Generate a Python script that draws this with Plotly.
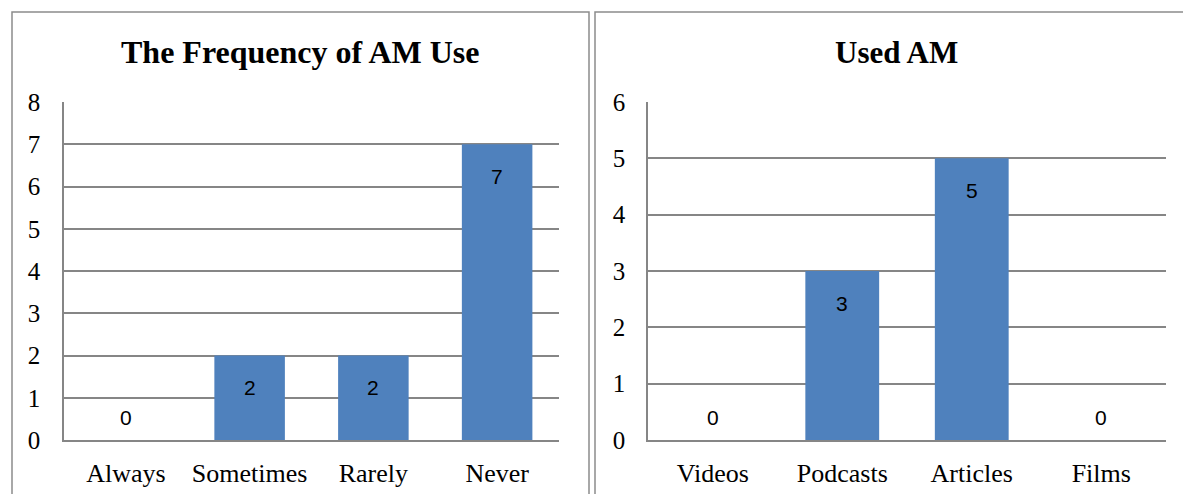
import plotly.graph_objects as go

# Chart data
freq_categories = ["Always", "Sometimes", "Rarely", "Never"]
freq_values = [0, 2, 2, 7]
freq_title = "The Frequency of AM Use"

used_categories = ["Videos", "Podcasts", "Articles", "Films"]
used_values = [0, 3, 5, 0]
used_title = "Used AM"

W, H = 1183, 494
BAR = "#4F81BD"
GRID = "#868686"
SERIF = "Liberation Serif, Times New Roman, serif"
SANS = "Liberation Sans, Arial, sans-serif"


def px_x(x):
    return x / W


def px_y(y):
    return 1 - y / H


fig = go.Figure()

fig.add_trace(go.Bar(x=freq_categories, y=freq_values, marker_color=BAR,
                     marker_line_width=0, xaxis="x", yaxis="y",
                     hoverinfo="x+y"))
fig.add_trace(go.Bar(x=used_categories, y=used_values, marker_color=BAR,
                     marker_line_width=0, xaxis="x2", yaxis="y2",
                     hoverinfo="x+y"))

line_common = dict(showline=True, linecolor=GRID, linewidth=1.5,
                   automargin=False, fixedrange=True, ticks="")
xfont = dict(family=SERIF, size=26, color="#000")
yfont = dict(family=SERIF, size=25, color="#000")

fig.update_layout(
    template="none",
    width=W, height=H,
    margin=dict(l=0, r=0, t=0, b=0, pad=0),
    paper_bgcolor="white", plot_bgcolor="white",
    showlegend=False,
    bargap=0.43,
    xaxis=dict(domain=[px_x(64), px_x(559)], anchor="y", showgrid=False,
               tickfont=xfont, ticklabelstandoff=9, **line_common),
    yaxis=dict(domain=[px_y(440), px_y(102)], anchor="x", range=[0, 8],
               dtick=1, showgrid=True, gridcolor=GRID, gridwidth=1.5,
               zeroline=False, tickfont=yfont, ticklabelstandoff=17,
               **line_common),
    xaxis2=dict(domain=[px_x(648), px_x(1166)], anchor="y2", showgrid=False,
                tickfont=xfont, ticklabelstandoff=9, **line_common),
    yaxis2=dict(domain=[px_y(440), px_y(102)], anchor="x2", range=[0, 6],
                dtick=1, showgrid=True, gridcolor=GRID, gridwidth=1.5,
                zeroline=False, tickfont=yfont, ticklabelstandoff=16,
                **line_common),
)

# Value labels: inside the top of each bar, just above the axis for zeros
annotations = []
for cats, vals, xr, yr in [(freq_categories, freq_values, "x", "y"),
                           (used_categories, used_values, "x2", "y2")]:
    for c, v in zip(cats, vals):
        annotations.append(dict(
            x=c, y=v, xref=xr, yref=yr, text=str(v), showarrow=False,
            xanchor="center", yanchor="middle",
            font=dict(family=SANS, size=21, color="#000"),
            yshift=23 if v == 0 else -32,
        ))

# Panel titles
for title, cx, size in [(freq_title, 300, 32), (used_title, 896, 31)]:
    annotations.append(dict(x=px_x(cx), y=px_y(52), xref="paper",
                            yref="paper", text="<b>" + title + "</b>",
                            showarrow=False, xanchor="center",
                            yanchor="middle",
                            font=dict(family=SERIF, size=size, color="#000")))
fig.update_layout(annotations=annotations)

# Chart-area frames around each panel
border = dict(color="#8C8C8C", width=1.5)
fig.add_shape(type="rect", xref="paper", yref="paper",
              x0=px_x(12), x1=px_x(589), y0=-0.2, y1=px_y(12), line=border)
fig.add_shape(type="rect", xref="paper", yref="paper",
              x0=px_x(595), x1=1.2, y0=-0.2, y1=px_y(12), line=border)

fig.write_html("out.html")
